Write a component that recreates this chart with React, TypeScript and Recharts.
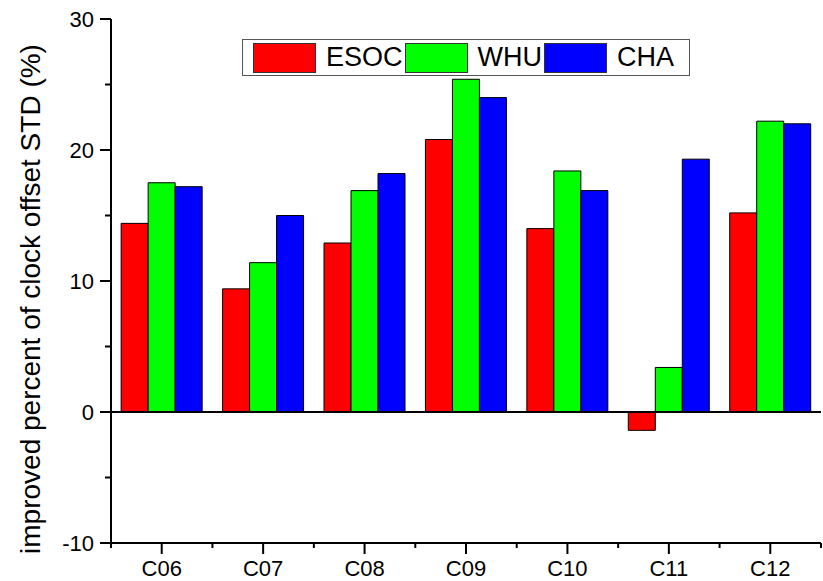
import React from 'react';
import { BarChart, Bar, XAxis, YAxis, ReferenceLine } from 'recharts';

// values
const categories = ['C06', 'C07', 'C08', 'C09', 'C10', 'C11', 'C12'];
const esocValues = [14.4, 9.4, 12.9, 20.8, 14.0, -1.4, 15.2];
const whuValues = [17.5, 11.4, 16.9, 25.4, 18.4, 3.4, 22.2];
const chaValues = [17.2, 15.0, 18.2, 24.0, 16.9, 19.3, 22.0];
const seriesNames = ['ESOC', 'WHU', 'CHA'];
const seriesKeys = ['esoc', 'whu', 'cha'];
const seriesColors = ['#ff0000', '#00ff00', '#0000ff'];
const yTicks = [-10, -5, 0, 5, 10, 15, 20, 25, 30];
const yMajor = [-10, 0, 10, 20, 30];

const data = categories.map((cat, i) => ({
    cat,
    esoc: esocValues[i],
    whu: whuValues[i],
    cha: chaValues[i],
}));

const W = 823;
const H = 581;
const margin = { top: 19, right: 2, bottom: 0, left: 0 };
const Y_WIDTH = 111;
const X_HEIGHT = 38;
const AXIS_X = margin.left + Y_WIDTH;
const AXIS_Y = H - margin.bottom - X_HEIGHT;
const PLOT_W = W - margin.left - margin.right - Y_WIDTH;
const BAND = PLOT_W / categories.length;
const FONT = '"Liberation Sans", Arial, sans-serif';

function XTick(props: any) {
    const { x, payload, index } = props;
    return (
        <g>
            <line x1={x - BAND / 2} x2={x - BAND / 2} y1={AXIS_Y} y2={AXIS_Y + 5} stroke="#000" strokeWidth={2} />
            {index === categories.length - 1 && (
                <line x1={x + BAND / 2} x2={x + BAND / 2} y1={AXIS_Y} y2={AXIS_Y + 5} stroke="#000" strokeWidth={2} />
            )}
            <text x={x} y={AXIS_Y + 33} textAnchor="middle" fontSize={22} fontFamily={FONT} fill="#000">
                {payload.value}
            </text>
        </g>
    );
}

function YTick(props: any) {
    const { y, payload } = props;
    const major = yMajor.includes(payload.value);
    return (
        <g>
            <line x1={AXIS_X - (major ? 11 : 6)} x2={AXIS_X} y1={y} y2={y} stroke="#000" strokeWidth={2} />
            {major && (
                <text x={AXIS_X - 17} y={y + 8} textAnchor="end" fontSize={22} fontFamily={FONT} fill="#000">
                    {payload.value}
                </text>
            )}
        </g>
    );
}

function RightTick(props: any) {
    const { y, payload } = props;
    const major = yMajor.includes(payload.value);
    const x0 = W - margin.right;
    return <line x1={x0} x2={x0 + (major ? 11 : 6)} y1={y} y2={y} stroke="#000" strokeWidth={2} />;
}

function YLabel(props: any) {
    const { viewBox } = props;
    const cy = viewBox.y + viewBox.height / 2 + 18;
    const cx = 40;
    return (
        <text
            x={cx}
            y={cy}
            transform={`rotate(-90, ${cx}, ${cy})`}
            textAnchor="middle"
            fontSize={28}
            fontFamily={FONT}
            fill="#000"
        >
            improved percent of clock offset STD (%)
        </text>
    );
}

function ChartLegend() {
    return (
        <div
            style={{
                position: 'absolute',
                left: 242,
                top: 39,
                width: 448,
                height: 37,
                boxSizing: 'border-box',
                border: '1.5px solid #555',
                background: '#fff',
                display: 'flex',
                alignItems: 'center',
                paddingLeft: 10,
                fontFamily: FONT,
                fontSize: 27,
                lineHeight: 1,
            }}
        >
            {seriesNames.map((name, i) => (
                <div key={name} style={{ display: 'flex', alignItems: 'center', marginRight: 2 }}>
                    <div
                        style={{
                            width: 63,
                            height: 30,
                            boxSizing: 'border-box',
                            border: '1.5px solid #333',
                            background: seriesColors[i],
                        }}
                    />
                    <span style={{ marginLeft: 10, color: '#000' }}>{name}</span>
                </div>
            ))}
        </div>
    );
}

export default function App() {
    return (
        <div style={{ position: 'absolute', left: 0, top: 0, width: W, height: H, background: '#fff' }}>
            <BarChart width={W} height={H} data={data} margin={margin} barCategoryGap="10%" barGap={0}>
                <XAxis
                    xAxisId="main"
                    dataKey="cat"
                    height={X_HEIGHT}
                    axisLine={{ stroke: '#000', strokeWidth: 2 }}
                    tickLine={{ stroke: '#000', strokeWidth: 2 }}
                    tickSize={11}
                    tick={<XTick />}
                    interval={0}
                />
                <XAxis
                    xAxisId="top"
                    dataKey="cat"
                    orientation="top"
                    height={0}
                    axisLine={{ stroke: '#000', strokeWidth: 2 }}
                    tickLine={false}
                    tick={false}
                />
                <YAxis
                    yAxisId="left"
                    width={Y_WIDTH}
                    domain={[-10, 30]}
                    ticks={yTicks}
                    interval={0}
                    allowDataOverflow
                    axisLine={{ stroke: '#000', strokeWidth: 2 }}
                    tickLine={false}
                    tick={<YTick />}
                    label={<YLabel />}
                />
                <YAxis
                    yAxisId="right"
                    orientation="right"
                    width={0}
                    domain={[-10, 30]}
                    ticks={yTicks}
                    interval={0}
                    allowDataOverflow
                    axisLine={{ stroke: '#000', strokeWidth: 2 }}
                    tickLine={false}
                    tick={<RightTick />}
                />
                {seriesKeys.map((key, i) => (
                    <Bar
                        key={key}
                        xAxisId="main"
                        yAxisId="left"
                        dataKey={key}
                        name={seriesNames[i]}
                        fill={seriesColors[i]}
                        stroke="#000"
                        strokeWidth={1}
                        isAnimationActive={false}
                    />
                ))}
                <ReferenceLine xAxisId="main" yAxisId="left" y={0} stroke="#000" strokeWidth={2} />
            </BarChart>
            <ChartLegend />
        </div>
    );
}
